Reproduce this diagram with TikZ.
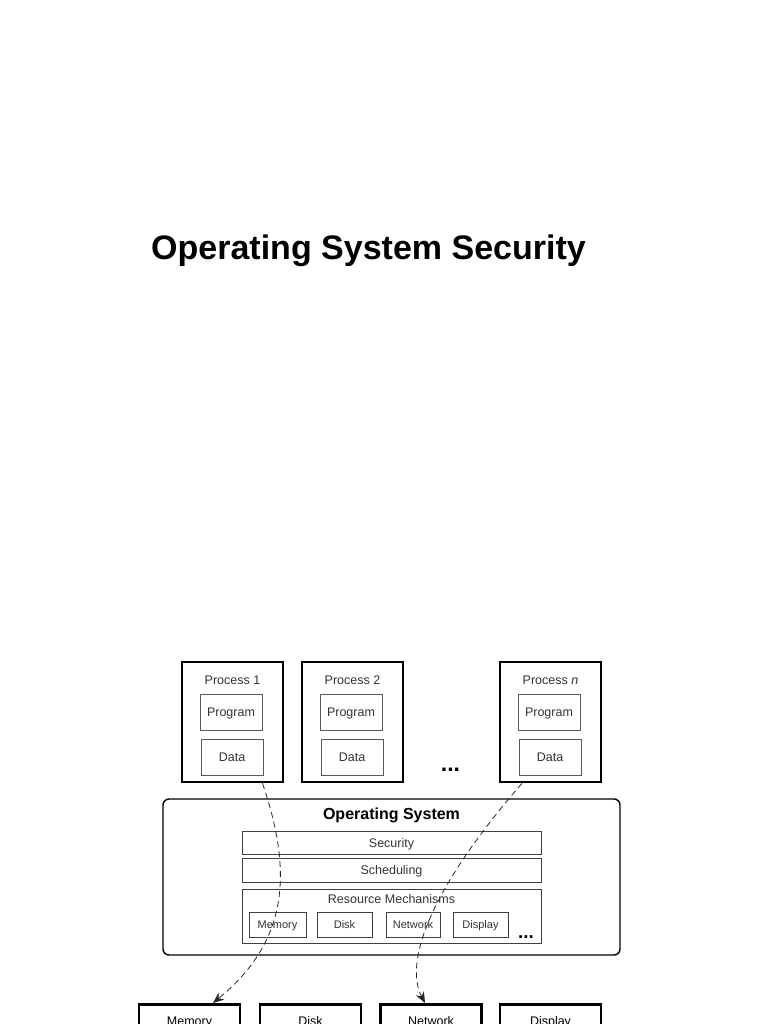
\documentclass[tikz,border=0pt]{standalone}
\usepackage{fontspec}
\setsansfont{Liberation Sans}
\usetikzlibrary{arrows.meta,positioning,calc}

\begin{document}
\begin{tikzpicture}[
  x=1pt, y=-1pt,
  font=\sffamily\fontsize{12.5}{15}\selectfont,
  proc/.style={rectangle, draw=black, line width=2.6pt, minimum width=101pt, minimum height=120pt},
  part/.style={rectangle, draw=black!65, line width=0.9pt, minimum width=62pt, minimum height=36pt, text=black!80, text height=9pt, text depth=0pt},
  bar/.style={rectangle, draw=black!75, line width=0.9pt, minimum width=299pt, text=black!80, text height=9pt, text depth=0pt},
  res/.style={rectangle, draw=black!75, line width=0.9pt, minimum height=25pt, font=\sffamily\fontsize{11}{13}\selectfont, text=black!80, text height=8pt, text depth=0pt},
  dev/.style={rectangle, draw=black, line width=2.6pt, minimum width=101pt, minimum height=60pt, anchor=north},
  dots/.style={font=\sffamily\bfseries\fontsize{23}{23}\selectfont, anchor=base},
  flow/.style={-{Stealth[length=11pt,width=9pt]}, dash pattern=on 6pt off 4pt, line width=0.8pt, black!85}
]
\useasboundingbox (0,0) rectangle (768,1024);

\node[font=\sffamily\bfseries\fontsize{34}{40}\selectfont, anchor=base] (title) at (368.5,259) {Operating System Security};

% processes
\node[proc] (p1) at (232.5,722) {};
\node[text=black!80] (p1lbl) at (232.5,680) {Process 1};
\node[part] (prog1) at (231,712) {Program};
\node[part] (data1) at (232,757) {Data};

\node[proc] (p2) at (352.5,722) {};
\node[text=black!80] (p2lbl) at (352.5,680) {Process 2};
\node[part] (prog2) at (351,712) {Program};
\node[part] (data2) at (352,757) {Data};

\node[dots] (pdots) at (450.5,771) {...};

\node[proc] (pn) at (550.5,722) {};
\node[text=black!80] (pnlbl) at (550.5,680) {Process \textit{n}};
\node[part] (progn) at (549,712) {Program};
\node[part] (datan) at (550,757) {Data};

% operating system
\node[draw, line width=1.4pt, rounded corners=6pt, minimum width=457pt, minimum height=156pt] (os) at (391.5,877) {};
\node[font=\sffamily\bfseries\fontsize{16}{18}\selectfont] (ostitle) at (391.5,815) {Operating System};
\node[bar, minimum height=23pt] (sec) at (391.5,842.5) {Security};
\node[bar, minimum height=24pt] (sched) at (391.5,870) {Scheduling};
\node[bar, minimum height=54pt] (resbox) at (391.5,916) {};
\node[text=black!80] (restitle) at (391.5,899) {Resource Mechanisms};
\node[res, minimum width=57pt] (rmem) at (277.5,924.5) {Memory};
\node[res, minimum width=55pt] (rdisk) at (344.5,924.5) {Disk};
\node[res, minimum width=54pt] (rnet) at (413,924.5) {Network};
\node[res, minimum width=55pt] (rdisp) at (480.5,924.5) {Display};
\node[dots, font=\sffamily\bfseries\fontsize{19}{19}\selectfont] (rdots) at (526,938) {...};

% devices
\node[dev] (dmem) at (189.5,1003) {};
\node[below=10pt of dmem.north] (dmemlbl) {Memory};
\node[dev] (ddisk) at (310.5,1003) {};
\node[below=10pt of ddisk.north] (ddisklbl) {Disk};
\node[dev] (dnet) at (431,1003) {};
\node[below=10pt of dnet.north] (dnetlbl) {Network};
\node[dev] (ddisp) at (550.5,1003) {};
\node[below=10pt of ddisp.north] (ddisplbl) {Display};

\draw[flow] ([xshift=30pt]p1.south) .. controls (292,870) and (290,940) .. ([xshift=23.5pt]dmem.north);
\draw[flow] ([xshift=-28.5pt]pn.south) .. controls (425,895) and (405,965) .. ([xshift=-6pt]dnet.north);
\end{tikzpicture}
\end{document}
